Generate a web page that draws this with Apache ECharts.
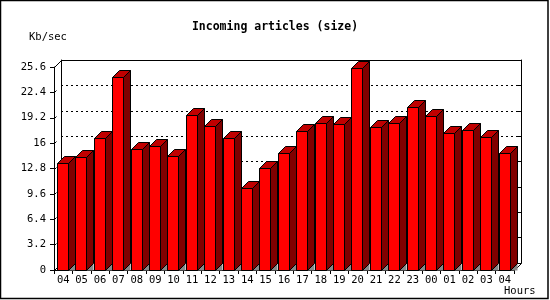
<!DOCTYPE html>
<html><head><meta charset="utf-8">
<script src="https://cdn.jsdelivr.net/npm/echarts@6/dist/echarts.min.js"></script>
<style>html,body{margin:0;padding:0;background:#fff}#c{width:550px;height:300px}</style>
</head><body><div id="c"></div>
<script>
const hours = ['04','05','06','07','08','09','10','11','12','13','14','15','16','17','18','19','20','21','22','23','00','01','02','03','04'];
const sizeKb = [13.5,14.2,16.7,24.4,15.2,15.7,14.4,19.5,18.1,16.6,10.4,12.9,14.8,17.5,18.6,18.4,25.5,18.0,18.6,20.5,19.4,17.3,17.6,16.8,14.8];
const yTicks = [0,3.2,6.4,9.6,12.8,16,19.2,22.4,25.6];
const titleText = 'Incoming articles (size)';
const yName = 'Kb/sec';
const xName = 'Hours';

const FONT = 'DejaVu Sans Mono';
const DEPTH = 7;
const G = {left: 54, top: 67, width: 460, height: 203};

function px(v){ return Math.round(v) + 0.5; }

function renderBar(params, api){
  const i = api.value(0), v = api.value(1);
  const top = api.coord([i, v]);
  const base = api.coord([i, 0]);
  const band = api.size([1, 0])[0];
  const d = DEPTH;
  const x0 = px(top[0] - band/2 + 3);
  const x1 = x0 + 11;
  const yt = px(top[1]);
  const yb = px(base[1]);
  const st = {stroke:'#000', lineWidth:1};
  return {type:'group', children:[
    {type:'polygon', shape:{points:[[x1,yb],[x1+d,yb-d],[x1+d,yb]]}, style:{fill:'#888888'}},
    {type:'polygon', shape:{points:[[x0,yt],[x1,yt],[x1,yb],[x0,yb]]}, style:Object.assign({fill:'#ff0000'},st)},
    {type:'polygon', shape:{points:[[x0,yt],[x0+d,yt-d],[x1+d,yt-d],[x1,yt]]}, style:Object.assign({fill:'#c00000'},st)},
    {type:'polygon', shape:{points:[[x1,yt],[x1+d,yt-d],[x1+d,yb-d],[x1,yb]]}, style:Object.assign({fill:'#800000'},st)}
  ]};
}

function renderFrame(params, api){
  const cs = params.coordSys;
  const d = DEPTH;
  const L = px(cs.x), T = px(cs.y), R = px(cs.x + cs.width), B = px(cs.y + cs.height);
  const st = {stroke:'#000', lineWidth:1};
  const ch = [
    {type:'line', shape:{x1:L,y1:T,x2:L+d,y2:T-d}, style:st},
    {type:'line', shape:{x1:L+d,y1:T-d,x2:R+d,y2:T-d}, style:st},
    {type:'line', shape:{x1:R+d,y1:T-d,x2:R+d,y2:B-d}, style:st},
    {type:'line', shape:{x1:R+d,y1:B-d,x2:R,y2:B}, style:st},
    {type:'line', shape:{x1:L,y1:B,x2:L+d,y2:B-d}, style:st}
  ];
  yTicks.forEach(t => {
    const y = px(api.coord([0, t])[1]);
    ch.push({type:'line', shape:{x1:L,y1:y,x2:L+2,y2:y-2}, style:st});
  });
  return {type:'group', children: ch};
}

const chart = echarts.init(document.getElementById('c'), null, {renderer:'canvas'});
chart.setOption({
  animation: false,
  backgroundColor: '#fff',
  title: {text: titleText, left: 'center', top: 16,
    textStyle:{fontFamily: FONT, fontWeight:'bold', fontSize: 11.5, color:'#000'}},
  grid: [
    {left: G.left, top: G.top, width: G.width, height: G.height},
    {left: G.left + DEPTH, top: G.top - DEPTH, width: G.width, height: G.height}
  ],
  xAxis: [
    {type:'category', gridIndex:0, data: hours,
      axisLine:{lineStyle:{color:'#000', width:1}},
      axisTick:{show:true, interval:0, length:4, lineStyle:{color:'#000'}},
      axisLabel:{interval:0, margin:5, color:'#000', fontFamily:FONT, fontSize:10.5}},
    {type:'category', gridIndex:1, data: hours, show:false}
  ],
  yAxis: [
    {type:'value', gridIndex:0, min:0, max:25.6, interval:3.2,
      axisLine:{show:true, lineStyle:{color:'#000', width:1}},
      axisTick:{show:true, length:4, lineStyle:{color:'#000'}},
      axisLabel:{margin:8, color:'#000', fontFamily:FONT, fontSize:10.5},
      splitLine:{show:false}},
    {type:'value', gridIndex:1, min:0, max:25.6, interval:3.2,
      axisLine:{show:true, lineStyle:{color:'#000', width:1}},
      axisTick:{show:false}, axisLabel:{show:false},
      splitLine:{show:true, lineStyle:{color:'#000', width:1, type:[2,3]}}},
    {type:'value', gridIndex:1, position:'right', min:0, max:25.6, interval:3.2,
      axisLine:{show:true, lineStyle:{color:'#000', width:1}},
      axisTick:{show:true, inside:true, length:3, lineStyle:{color:'#000'}},
      axisLabel:{show:false}, splitLine:{show:false}}
  ],
  graphic: [
    {type:'rect', shape:{x:0.5, y:0.5, width:547.5, height:298}, style:{fill:'none', stroke:'#000', lineWidth:1.5}, z:100},
    {type:'text', left: 29, top: 32, style:{text: yName, fontFamily:FONT, fontSize:10.5, fill:'#000'}},
    {type:'text', left: 504, top: 286, style:{text: xName, fontFamily:FONT, fontSize:10.5, fill:'#000'}}
  ],
  series: [
    {type:'custom', xAxisIndex:0, yAxisIndex:0, z:1, silent:true,
      renderItem: renderFrame, data:[[0,0]]},
    {type:'custom', xAxisIndex:0, yAxisIndex:0, z:3,
      renderItem: renderBar, data: sizeKb.map((v,i)=>[i,v])}
  ]
});
</script></body></html>
